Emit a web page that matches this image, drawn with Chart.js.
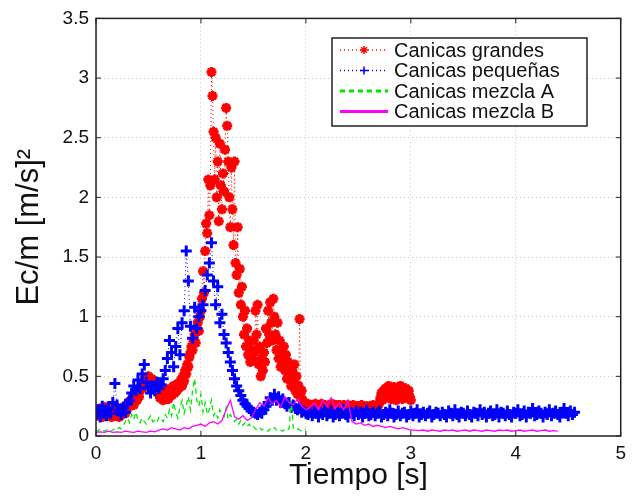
<!DOCTYPE html>
<html>
<head>
<meta charset="utf-8">
<style>
  html, body { margin: 0; padding: 0; background: #fff; }
  #c { display: block; }
</style>
</head>
<body>
<canvas id="c" width="632" height="496"></canvas>
<script src="https://cdn.jsdelivr.net/npm/chart.js@4"></script>
<script>
// legend labels
const names = ['Canicas grandes', 'Canicas pequeñas', 'Canicas mezcla A', 'Canicas mezcla B'];

// sample step of each series [s]
const dtGrandes = 0.01;
const dtPeque = 0.02;
const dtMezclaA = 0.02;
const dtMezclaB = 0.04;

// Ec/m values
const grandes = [
  0.20, 0.17, 0.22, 0.18, 0.23, 0.19, 0.16, 0.21, 0.24, 0.18,
  0.22, 0.17, 0.20, 0.25, 0.19, 0.16, 0.22, 0.18, 0.21, 0.17,
  0.23, 0.19, 0.16, 0.22, 0.20, 0.18, 0.24, 0.21, 0.19, 0.26,
  0.23, 0.28, 0.25, 0.30, 0.27, 0.32, 0.26, 0.29, 0.34, 0.30, 0.36, 0.33, 0.38, 0.42, 0.40,
  0.44, 0.47, 0.42, 0.49, 0.45, 0.50, 0.46, 0.43, 0.48, 0.44, 0.41, 0.46, 0.42, 0.39, 0.37,
  0.35, 0.32, 0.38, 0.34, 0.30, 0.36, 0.33, 0.39, 0.35, 0.31,
  0.37, 0.40, 0.34, 0.38, 0.42, 0.36, 0.41, 0.38, 0.44, 0.40,
  0.43, 0.47, 0.42, 0.50, 0.46, 0.55, 0.52, 0.60, 0.58, 0.66,
  0.70, 0.75, 0.72, 0.80, 0.85, 0.78, 0.90, 0.95, 0.88, 1.00,
  1.05, 1.15, 1.38, 1.20, 1.55, 1.78, 1.70, 2.15, 1.85, 2.10,
  3.05, 2.85, 2.55, 2.15, 2.50, 2.00, 2.30, 1.80, 2.45, 2.10,
  1.90, 2.20, 2.05, 2.40, 2.75, 2.60, 2.30, 2.00, 1.75, 2.25,
  1.90, 1.60, 2.30, 1.45, 1.35, 1.75, 1.20, 1.40, 1.10, 1.25,
  1.00, 0.85, 1.05, 0.75, 0.90, 0.68, 0.80, 0.62, 0.72, 0.65,
  0.80, 0.70, 1.05, 0.85, 1.10, 0.60, 0.75, 0.50, 0.65, 0.55,
  0.70, 0.62, 0.90, 0.78, 1.05, 0.85, 1.12, 0.95, 0.80, 1.15,
  1.00, 0.85, 0.72, 0.95, 0.65, 0.80, 0.58, 0.70, 0.62, 0.75,
  0.55, 0.68, 0.48, 0.62, 0.50, 0.58, 0.42, 0.55, 0.45, 0.60,
  0.38, 0.50, 0.35, 0.42, 0.98, 0.32, 0.38, 0.30, 0.28, 0.27,
  0.26, 0.25, 0.27, 0.24, 0.26, 0.25, 0.23, 0.26, 0.25, 0.27,
  0.24, 0.26, 0.25, 0.23, 0.25, 0.27, 0.24, 0.25, 0.26, 0.24,
  0.25, 0.23, 0.26, 0.24, 0.25, 0.27, 0.24, 0.25, 0.23, 0.26,
  0.24, 0.25, 0.26, 0.23, 0.25, 0.24, 0.26, 0.25, 0.23, 0.24,
  0.26, 0.24, 0.25, 0.23, 0.25, 0.26, 0.24, 0.23, 0.25, 0.24,
  0.25, 0.23, 0.24, 0.26, 0.24, 0.25, 0.23, 0.24, 0.25, 0.23,
  0.24, 0.25, 0.23, 0.24, 0.26, 0.24, 0.23, 0.25, 0.24, 0.26,
  0.28, 0.32, 0.36, 0.30, 0.38, 0.34, 0.40, 0.33, 0.37, 0.42,
  0.35, 0.31, 0.38, 0.34, 0.41, 0.36, 0.30, 0.39, 0.33, 0.37,
  0.42, 0.35, 0.31, 0.38, 0.34, 0.40, 0.36, 0.32, 0.38, 0.33, 0.30
];

const pequenas = [
  0.18, 0.22, 0.16, 0.25, 0.20, 0.17, 0.23, 0.19, 0.28, 0.44, 0.26, 0.21, 0.18, 0.24, 0.20, 0.27,
  0.30, 0.36, 0.42, 0.38, 0.47, 0.40, 0.52, 0.60, 0.45, 0.40,
  0.36, 0.42, 0.38, 0.45, 0.40, 0.43, 0.48,
  0.55, 0.65, 0.80, 0.70, 0.58, 0.75, 0.90, 0.68,
  0.95, 1.05, 1.55, 1.30, 0.92,
  0.82, 1.08, 0.90, 1.00, 1.05,
  1.10, 1.22, 1.35, 1.45, 1.62,
  1.30, 1.10, 1.25, 0.95, 1.02,
  0.85, 0.78, 0.70, 0.62, 0.55,
  0.48, 0.42, 0.38, 0.34, 0.30,
  0.27, 0.25, 0.23, 0.21, 0.20,
  0.19, 0.18, 0.20, 0.19, 0.22,
  0.25, 0.28, 0.32, 0.30, 0.35,
  0.30, 0.33, 0.28, 0.31, 0.27,
  0.25, 0.28, 0.24, 0.26, 0.23,
  0.22, 0.24, 0.20, 0.21, 0.19,
  0.18, 0.20, 0.17, 0.21, 0.19, 0.16, 0.20, 0.18, 0.22, 0.17, 0.19, 0.21, 0.16, 0.18, 0.20, 0.17,
  0.19, 0.22, 0.18, 0.16, 0.20, 0.19, 0.17, 0.21, 0.18, 0.20, 0.16, 0.19, 0.22, 0.17, 0.18, 0.20,
  0.17, 0.19, 0.21, 0.16, 0.18, 0.20, 0.17, 0.22, 0.19, 0.16, 0.18, 0.21, 0.17, 0.19, 0.20, 0.16,
  0.18, 0.21, 0.17, 0.19, 0.22, 0.16, 0.18, 0.20, 0.17, 0.19, 0.21, 0.16, 0.18, 0.20, 0.19, 0.17,
  0.20, 0.18, 0.16, 0.21, 0.19, 0.17, 0.22, 0.18, 0.16, 0.20, 0.19, 0.17, 0.21, 0.18, 0.16, 0.20,
  0.19, 0.17, 0.22, 0.18, 0.20, 0.16, 0.19, 0.21, 0.17, 0.18, 0.22, 0.16, 0.20, 0.19, 0.17, 0.21,
  0.18, 0.16, 0.20, 0.19, 0.22, 0.17, 0.18, 0.21, 0.16, 0.20, 0.19, 0.23, 0.17, 0.18, 0.21, 0.19,
  0.16, 0.20, 0.18, 0.22, 0.17, 0.19, 0.21, 0.18, 0.16, 0.20, 0.23, 0.19, 0.17, 0.21, 0.18, 0.20
];

const mezclaA = [
  0.05, 0.04, 0.06, 0.05, 0.04, 0.05, 0.06, 0.04, 0.05, 0.06, 0.05, 0.07, 0.06,
  0.09, 0.12, 0.15, 0.11, 0.18, 0.14, 0.20, 0.13,
  0.11, 0.15, 0.12, 0.10, 0.14, 0.17, 0.12, 0.13, 0.11, 0.16, 0.14, 0.12, 0.18, 0.15, 0.22,
  0.17, 0.28, 0.20, 0.15, 0.24, 0.30, 0.19, 0.26, 0.33, 0.22,
  0.38, 0.48, 0.30, 0.25, 0.35,
  0.20, 0.28, 0.18, 0.22, 0.30, 0.17, 0.20, 0.15, 0.22, 0.18, 0.16, 0.24, 0.14, 0.18, 0.15,
  0.12, 0.14, 0.10, 0.13, 0.09, 0.11, 0.08, 0.10, 0.07, 0.08,
  0.06, 0.05, 0.07, 0.05, 0.06, 0.05, 0.04, 0.06, 0.05, 0.07, 0.05, 0.06, 0.05, 0.04, 0.06, 0.05,
  0.06, 0.30, 0.07, 0.05, 0.06, 0.05, 0.04, 0.05, 0.06
];

const mezclaB = [
  0.03, 0.035, 0.03, 0.04, 0.03, 0.035, 0.03, 0.04, 0.035, 0.03, 0.04, 0.035, 0.03, 0.04, 0.035,
  0.05, 0.06, 0.05, 0.07, 0.06, 0.05, 0.07, 0.06,
  0.08, 0.09, 0.10, 0.08, 0.11, 0.12, 0.10, 0.13,
  0.22, 0.30,
  0.16, 0.14, 0.17, 0.13, 0.15,
  0.22, 0.28, 0.25, 0.32, 0.27, 0.30, 0.24, 0.33, 0.28, 0.26, 0.31, 0.25, 0.22,
  0.24, 0.28, 0.22, 0.30, 0.25, 0.32, 0.23, 0.28, 0.22, 0.30,
  0.12, 0.10, 0.11, 0.09, 0.10, 0.08, 0.09, 0.08, 0.07, 0.08, 0.07, 0.06, 0.07, 0.06, 0.05,
  0.05, 0.045, 0.05, 0.04, 0.05, 0.045, 0.04, 0.05, 0.045, 0.05, 0.04, 0.045, 0.05, 0.04, 0.05, 0.045,
  0.04, 0.05, 0.045, 0.04, 0.05, 0.045, 0.05, 0.04, 0.045, 0.05, 0.04, 0.045, 0.05, 0.04, 0.045, 0.05,
  0.04, 0.045, 0.04
];

const xTicks = [0, 1, 2, 3, 4, 5];
const yTicks = [0, 0.5, 1, 1.5, 2, 2.5, 3, 3.5];

const FONT = '"Liberation Sans", Arial, Helvetica, sans-serif';

function toPoints(values, dt) {
  return values.map((v, i) => ({ x: +(i * dt).toFixed(3), y: v }));
}

// matlab style box with inward ticks
const framePlugin = {
  id: 'frame',
  afterDraw(chart) {
    const { ctx, chartArea: a, scales } = chart;
    ctx.save();
    ctx.strokeStyle = '#222';
    ctx.lineWidth = 1.5;
    ctx.strokeRect(a.left, a.top, a.right - a.left, a.bottom - a.top);
    ctx.lineWidth = 1;
    ctx.beginPath();
    xTicks.forEach(t => {
      const x = scales.x.getPixelForValue(t);
      ctx.moveTo(x, a.bottom); ctx.lineTo(x, a.bottom - 5);
      ctx.moveTo(x, a.top); ctx.lineTo(x, a.top + 5);
    });
    yTicks.forEach(t => {
      const y = scales.y.getPixelForValue(t);
      ctx.moveTo(a.left, y); ctx.lineTo(a.left + 5, y);
      ctx.moveTo(a.right, y); ctx.lineTo(a.right - 5, y);
    });
    ctx.stroke();
    ctx.restore();
  }
};

// legend box inside the plot, top right
const legendPlugin = {
  id: 'boxLegend',
  afterDraw(chart) {
    const { ctx } = chart;
    const left = 332, top = 38, w = 255, h = 88;
    ctx.save();
    ctx.fillStyle = '#fff';
    ctx.fillRect(left, top, w, h);
    ctx.strokeStyle = '#222';
    ctx.lineWidth = 1.5;
    ctx.strokeRect(left, top, w, h);
    ctx.font = '20px ' + FONT;
    ctx.textBaseline = 'middle';
    chart.data.datasets.forEach((ds, i) => {
      const y = top + 12 + i * 20.5;
      ctx.save();
      ctx.strokeStyle = ds.borderColor;
      ctx.lineWidth = ds.legendWidth;
      ctx.setLineDash(ds.borderDash || []);
      ctx.beginPath();
      ctx.moveTo(left + 8, y);
      ctx.lineTo(left + 56, y);
      ctx.stroke();
      ctx.setLineDash([]);
      if (ds.pointRadius > 0) {
        ctx.fillStyle = ds.borderColor;
        Chart.helpers.drawPoint(ctx, {
          pointStyle: ds.pointStyle, radius: 4, borderWidth: 2, rotation: 0
        }, left + 32, y);
      }
      ctx.restore();
      ctx.fillStyle = '#111';
      ctx.fillText(ds.label, left + 62, y + 1);
    });
    ctx.restore();
  }
};

new Chart(document.getElementById('c'), {
  type: 'line',
  data: {
    datasets: [
      {
        label: names[0],
        data: toPoints(grandes, dtGrandes),
        borderColor: 'rgb(255,0,0)',
        backgroundColor: 'rgb(255,0,0)',
        borderWidth: 1,
        legendWidth: 1.5,
        borderDash: [1, 3],
        pointStyle: 'star',
        pointRadius: 5,
        pointBorderWidth: 3,
        order: 3
      },
      {
        label: names[1],
        data: toPoints(pequenas, dtPeque),
        borderColor: 'rgb(0,0,255)',
        backgroundColor: 'rgb(0,0,255)',
        borderWidth: 1,
        legendWidth: 1.5,
        borderDash: [1, 3],
        pointStyle: 'cross',
        pointRadius: 5.5,
        pointBorderWidth: 3,
        order: 2
      },
      {
        label: names[2],
        data: toPoints(mezclaA, dtMezclaA),
        borderColor: 'rgb(0,230,0)',
        borderWidth: 1.3,
        legendWidth: 3,
        borderDash: [5, 4],
        pointRadius: 0,
        order: 1
      },
      {
        label: names[3],
        data: toPoints(mezclaB, dtMezclaB),
        borderColor: 'rgb(255,0,255)',
        borderWidth: 1.3,
        legendWidth: 3,
        pointRadius: 0,
        order: 0
      }
    ]
  },
  options: {
    responsive: false,
    animation: false,
    layout: { padding: { top: 18, right: 5, left: 0, bottom: 0 } },
    plugins: { legend: { display: false }, tooltip: { enabled: false } },
    elements: { line: { tension: 0 } },
    scales: {
      x: {
        type: 'linear',
        min: 0,
        max: 5,
        afterFit(scale) { scale.height = 60; },
        afterBuildTicks(scale) { scale.ticks = xTicks.map(v => ({ value: v })); },
        ticks: {
          padding: 6,
          color: '#111',
          font: { family: FONT, size: 19 },
          maxRotation: 0,
          callback: v => String(v)
        },
        grid: { color: '#c8c8c8', lineWidth: 1, drawTicks: false },
        border: { display: false, dash: [1, 3] },
        title: {
          display: true,
          text: 'Tiempo [s]',
          color: '#111',
          font: { family: FONT, size: 30 },
          padding: { top: 0, bottom: 2 }
        }
      },
      y: {
        type: 'linear',
        min: 0,
        max: 3.5,
        afterFit(scale) { scale.width = 96; },
        afterBuildTicks(scale) { scale.ticks = yTicks.map(v => ({ value: v })); },
        ticks: {
          padding: 7,
          color: '#111',
          font: { family: FONT, size: 19 },
          callback: v => String(v)
        },
        grid: { color: '#c8c8c8', lineWidth: 1, drawTicks: false },
        border: { display: false, dash: [1, 3] },
        title: {
          display: true,
          text: 'Ec/m [m/s]²',
          color: '#111',
          font: { family: FONT, size: 31 },
          padding: { top: 11, bottom: 0 }
        }
      }
    }
  },
  plugins: [framePlugin, legendPlugin]
});
</script>
</body>
</html>
